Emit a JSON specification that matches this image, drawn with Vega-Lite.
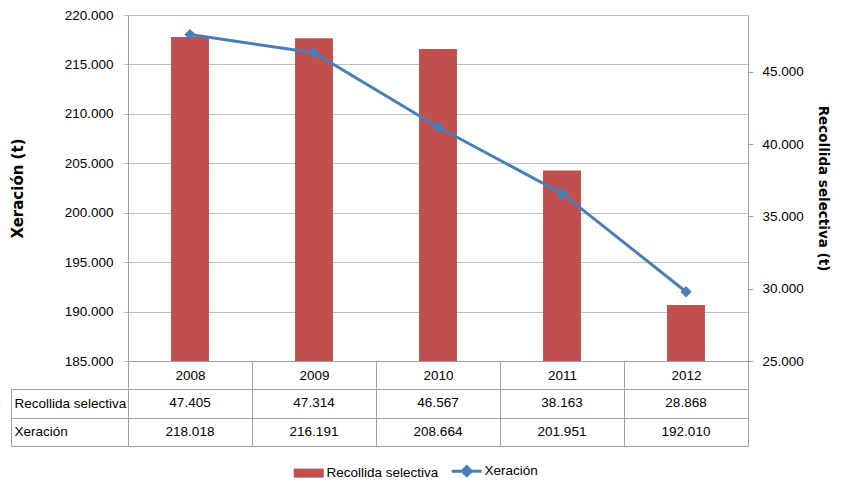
{
  "$schema": "https://vega.github.io/schema/vega-lite/v6.json",
  "padding": {"left": 10, "top": 8, "right": 10, "bottom": 5},
  "datasets": {
    "d": [
      {"year": "2008", "Recollida selectiva": 47405, "Xeración": 218018},
      {"year": "2009", "Recollida selectiva": 47314, "Xeración": 216191},
      {"year": "2010", "Recollida selectiva": 46567, "Xeración": 208664},
      {"year": "2011", "Recollida selectiva": 38163, "Xeración": 201951},
      {"year": "2012", "Recollida selectiva": 28868, "Xeración": 192010}
    ]
  },
  "data": {"name": "d"},
  "spacing": -8,
  "config": {
    "view": {"stroke": null},
    "locale": {"number": {"decimal": ",", "thousands": ".", "grouping": [3], "currency": ["", " €"]}},
    "font": "Liberation Sans",
    "axis": {
      "labelFont": "Liberation Sans",
      "labelFontSize": 13.5,
      "labelColor": "#000000",
      "titleFont": "DejaVu Sans",
      "titleFontSize": 13.5,
      "titleFontWeight": "bold",
      "titleColor": "#000000",
      "domainColor": "#A0A0A0",
      "tickColor": "#A0A0A0"
    },
    "legend": {
      "labelFont": "Liberation Sans",
      "labelFontSize": 13.5,
      "labelColor": "#000000"
    }
  },
  "vconcat": [
    {
      "width": 620,
      "height": 346,
      "encoding": {
        "x": {
          "field": "year",
          "type": "ordinal",
          "scale": {"paddingInner": 0, "paddingOuter": 0},
          "axis": {
            "title": null,
            "labelAngle": 0,
            "domain": true,
            "ticks": true,
            "tickBand": "extent",
            "tickSize": 27,
            "labelPadding": -20,
            "grid": false
          }
        }
      },
      "layer": [
        {
          "mark": {"type": "bar", "color": "#C0504D", "width": {"band": 0.306}, "clip": true},
          "encoding": {
            "y": {
              "field": "Recollida selectiva",
              "type": "quantitative",
              "scale": {"domain": [25000, 48920], "nice": false, "zero": false},
              "axis": {
                "orient": "right",
                "title": "Recollida selectiva (t)",
                "values": [25000, 30000, 35000, 40000, 45000],
                "format": ",d",
                "grid": false,
                "tickSize": 5,
                "labelPadding": 9,
                "titlePadding": 12,
                "domain": true
              }
            },
            "color": {
              "datum": "Recollida selectiva",
              "type": "nominal",
              "scale": {"domain": ["Recollida selectiva", "Xeración"], "range": ["#C0504D", "#4A7EBB"]},
              "legend": {
                "title": null,
                "orient": "none",
                "direction": "horizontal",
                "legendX": 174,
                "legendY": 449,
                "symbolSize": 900,
                "labelOffset": 11,
                "columnPadding": 6,
                "encode": {
                  "symbols": {
                    "update": {
                      "shape": {"signal": "datum.value === 'Xeración' ? 'M-1,0L1,0M-0.3,0L0,-0.3L0.3,0L0,0.3Z' : 'M-1,-0.3L1,-0.3L1,0.3L-1,0.3Z'"},
                      "fill": {"signal": "datum.value === 'Xeración' ? '#4A7EBB' : '#C0504D'"},
                      "stroke": {"signal": "datum.value === 'Xeración' ? '#4A7EBB' : '#C0504D'"},
                      "strokeWidth": {"signal": "datum.value === 'Xeración' ? 3 : 0"},
                      "opacity": {"value": 1},
                      "fillOpacity": {"value": 1}
                    }
                  }
                }
              }
            }
          }
        },
        {
          "mark": {
            "type": "line",
            "strokeWidth": 3,
            "point": {"shape": "diamond", "size": 130, "filled": true, "color": "#4A7EBB", "opacity": 1}
          },
          "encoding": {
            "y": {
              "field": "Xeración",
              "type": "quantitative",
              "scale": {"domain": [185000, 220000], "nice": false, "zero": false},
              "axis": {
                "orient": "left",
                "title": "Xeración (t)",
                "titleFontSize": 15,
                "values": [185000, 190000, 195000, 200000, 205000, 210000, 215000, 220000],
                "format": ",d",
                "grid": true,
                "gridColor": "#C0C0C0",
                "tickSize": 5,
                "tickColor": "#C0C0C0",
                "labelPadding": 10,
                "titlePadding": 39,
                "domain": true
              }
            },
            "color": {"datum": "Xeración", "type": "nominal"}
          }
        }
      ],
      "resolve": {"scale": {"y": "independent"}}
    },
    {
      "width": 620,
      "height": 57,
      "transform": [{"fold": ["Recollida selectiva", "Xeración"], "as": ["serie", "valor"]}],
      "mark": {"type": "text", "fontSize": 13.5, "font": "Liberation Sans", "color": "#000000"},
      "encoding": {
        "x": {
          "field": "year",
          "type": "ordinal",
          "scale": {"paddingInner": 0, "paddingOuter": 0},
          "axis": {"title": null, "labels": false, "ticks": false, "domain": false, "grid": true, "tickBand": "extent", "gridColor": "#A0A0A0"}
        },
        "y": {
          "field": "serie",
          "type": "nominal",
          "sort": ["Recollida selectiva", "Xeración"],
          "scale": {"paddingInner": 0, "paddingOuter": 0},
          "axis": {
            "title": null,
            "offset": 117,
            "domain": true,
            "ticks": true,
            "tickSize": -117,
            "tickBand": "extent",
            "grid": true,
            "gridColor": "#A0A0A0",
            "labelAlign": "left",
            "labelPadding": 114,
            "labelLimit": 0
          }
        },
        "text": {"field": "valor", "type": "quantitative", "format": ",d"}
      }
    }
  ]
}
